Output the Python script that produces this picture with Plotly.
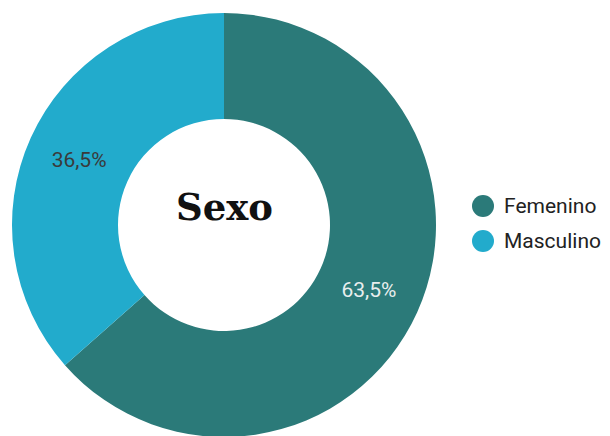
import plotly.graph_objects as go

labels = ["Femenino", "Masculino"]
values = [63.5, 36.5]
colors = ["#2b7a79", "#22abcc"]
text_colors = ["#e8eeee", "#3a3a3a"]
title = "Sexo"

# layout geometry (page has an 8px body offset)
ML, MT, MR, MB = 4, 5, 0, 7
W, H = 610, 436
pw, ph = W - ML - MR, H - MT - MB
dom_w = 424 / pw
cx = dom_w / 2


def px_to_paper(x, y):
    return (x - 8 - ML) / pw, 1 - (y - 8 - MT) / ph


fig = go.Figure(go.Pie(
    labels=labels,
    values=values,
    hole=0.5,
    sort=False,
    direction="clockwise",
    rotation=0,
    marker=dict(colors=colors, line=dict(width=0)),
    texttemplate="%{percent:.1%}",
    textposition="inside",
    insidetextorientation="horizontal",
    textfont=dict(family="Roboto", size=21, color=text_colors),
    domain=dict(x=[0, dom_w], y=[0, 1]),
    hoverinfo="label+percent",
    showlegend=False,
))

shapes = []
annotations = []
# manual legend with circle markers
for i, (lab, col) in enumerate(zip(labels, colors)):
    yc = 206 + 35 * i
    x0, y0 = px_to_paper(472, yc - 11)
    x1, y1 = px_to_paper(494, yc + 11)
    shapes.append(dict(type="circle", xref="paper", yref="paper",
                       x0=x0, x1=x1, y0=y1, y1=y0,
                       fillcolor=col, line=dict(width=0)))
    tx, ty = px_to_paper(502, yc)
    annotations.append(dict(text=lab, x=tx, y=ty, xref="paper", yref="paper",
                            xanchor="left", yanchor="middle", showarrow=False,
                            font=dict(family="Roboto", size=21, color="#222222")))

tx, ty = px_to_paper(224, 207)
annotations.append(dict(
    text="<b>" + title + "</b>", x=tx, y=ty, xref="paper", yref="paper",
    xanchor="center", yanchor="middle",
    showarrow=False, font=dict(family="DejaVu Serif", size=37, color="#111111"),
))

fig.update_layout(
    width=W, height=H,
    margin=dict(l=ML, r=MR, t=MT, b=MB),
    paper_bgcolor="white",
    plot_bgcolor="white",
    separators=",.",
    showlegend=False,
    shapes=shapes,
    annotations=annotations,
)

fig.write_html("out.html")
